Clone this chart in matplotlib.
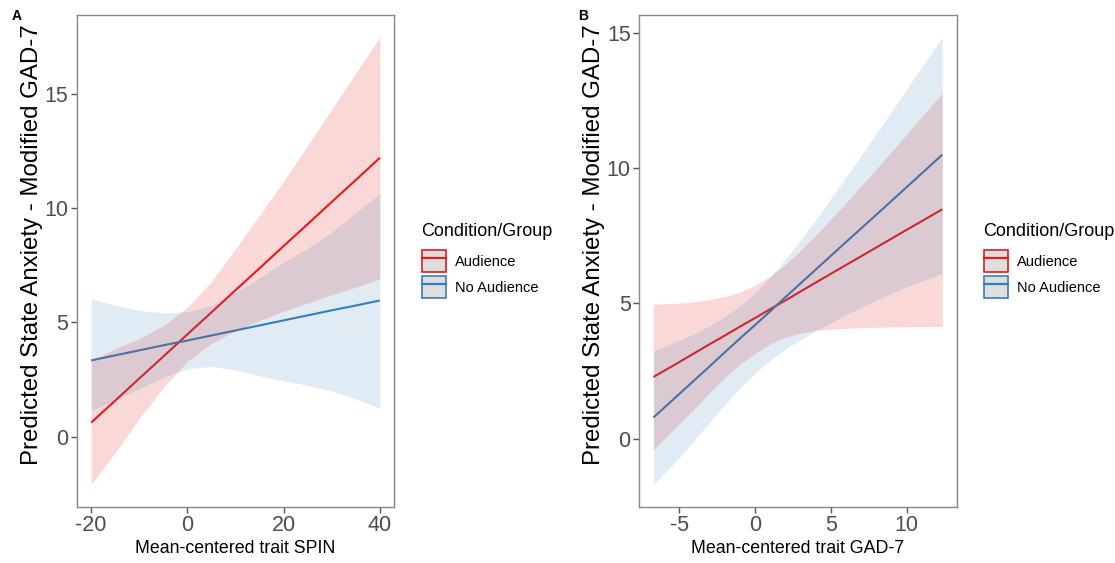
import matplotlib
matplotlib.use("Agg")
import matplotlib.pyplot as plt
from matplotlib.patches import Patch
from matplotlib.lines import Line2D

plt.rcParams['font.family'] = ['Liberation Sans', 'DejaVu Sans']
plt.rcParams['axes.unicode_minus'] = False

# ---- Panel A data (Mean-centered trait SPIN) ----
spin_x = [-20, -15, -10, -5, 0, 5, 10, 15, 20, 25, 30, 35, 40]
spin_aud_fit = [0.62, 1.58, 2.55, 3.51, 4.48, 5.44, 6.41, 7.37, 8.34, 9.30, 10.27, 11.23, 12.20]
spin_aud_hi = [3.32, 3.85, 4.30, 4.86, 5.66, 6.79, 8.22, 9.68, 11.19, 12.75, 14.33, 15.92, 17.48]
spin_aud_lo = [-2.08, -0.69, 0.80, 2.16, 3.30, 4.09, 4.64, 5.08, 5.49, 5.85, 6.21, 6.54, 6.90]
spin_noaud_fit = [3.34, 3.56, 3.78, 4.00, 4.21, 4.43, 4.65, 4.87, 5.09, 5.31, 5.53, 5.74, 5.96]
spin_noaud_hi = [6.03, 5.75, 5.53, 5.42, 5.47, 5.74, 6.30, 6.95, 7.63, 8.25, 8.95, 9.80, 10.64]
spin_noaud_lo = [1.15, 1.60, 2.10, 2.60, 2.98, 3.08, 2.92, 2.66, 2.45, 2.25, 2.00, 1.65, 1.26]

# ---- Panel B data (Mean-centered trait GAD-7) ----
gad_x = [-6.7, -5, -4, -3, -2, -1, 0, 1, 2, 3, 4, 6, 8, 10, 12.35]
gad_aud_fit = [2.28, 2.83, 3.16, 3.49, 3.81, 4.14, 4.46, 4.79, 5.11, 5.44, 5.77, 6.42, 7.07, 7.72, 8.48]
gad_aud_hi = [4.97, 5.01, 5.06, 5.14, 5.25, 5.42, 5.67, 6.01, 6.44, 6.96, 7.52, 8.72, 9.97, 11.26, 12.78]
gad_aud_lo = [-0.41, 0.55, 1.10, 1.70, 2.25, 2.75, 3.15, 3.50, 3.75, 3.90, 4.00, 4.08, 4.12, 4.14, 4.15]
gad_noaud_fit = [0.78, 1.65, 2.16, 2.67, 3.19, 3.70, 4.20, 4.71, 5.23, 5.74, 6.25, 7.27, 8.28, 9.30, 10.50]
gad_noaud_hi = [3.24, 3.63, 3.89, 4.17, 4.51, 4.91, 5.39, 5.96, 6.63, 7.34, 8.10, 9.67, 11.28, 12.92, 14.85]
gad_noaud_lo = [-1.69, -0.70, -0.05, 0.60, 1.25, 1.87, 2.42, 2.90, 3.30, 3.66, 3.98, 4.58, 5.12, 5.62, 6.10]

groups = ["Audience", "No Audience"]
line_colors = ["#E41A1C", "#377EB8"]
legend_title = "Condition/Group"
ylabel = "Predicted State Anxiety - Modified GAD-7"

W, H = 1115, 563
fig = plt.figure(figsize=(W / 100, H / 100), dpi=100)

def px_axes(l, t, r, b):
    return fig.add_axes([l / W, 1 - b / H, (r - l) / W, (b - t) / H])

axA = px_axes(76.7, 14.7, 394.3, 506.7)
axB = px_axes(639, 14.7, 956.7, 506.7)

def draw(ax, x, fits, his, los, xlabel, xticks, yticks):
    for fit, c in zip(fits, line_colors):
        ax.plot(x, fit, color=c, lw=1.5, zorder=2, solid_capstyle='butt')
    for hi, lo, c, a in zip(his, los, line_colors, [0.17, 0.15]):
        ax.fill_between(x, lo, hi, color=c, alpha=a, lw=0, zorder=3)
    ax.set_xticks(xticks)
    ax.set_yticks(yticks)
    ax.tick_params(axis='both', which='both', direction='out', length=4, width=1,
                   color='#555555', labelcolor='#4d4d4d', labelsize=15.5, pad=2)
    for s in ax.spines.values():
        s.set_color('#888888')
        s.set_linewidth(1.0)
    ax.set_xlabel(xlabel, fontsize=12.8, color='black', labelpad=3)
    ax.set_ylabel(ylabel, fontsize=17.3, color='black', labelpad=1)
    ax.yaxis.label.set_y(0.533)
    xmin, xmax = min(x), max(x)
    dx = (xmax - xmin) * 0.05
    ax.set_xlim(xmin - dx, xmax + dx)
    ymin = min(min(l) for l in los)
    ymax = max(max(h) for h in his)
    dy = (ymax - ymin) * 0.05
    ax.set_ylim(ymin - dy, ymax + dy)

draw(axA, spin_x, [spin_aud_fit, spin_noaud_fit], [spin_aud_hi, spin_noaud_hi],
     [spin_aud_lo, spin_noaud_lo], "Mean-centered trait SPIN", [-20, 0, 20, 40], [0, 5, 10, 15])
draw(axB, gad_x, [gad_aud_fit, gad_noaud_fit], [gad_aud_hi, gad_noaud_hi],
     [gad_aud_lo, gad_noaud_lo], "Mean-centered trait GAD-7", [-5, 0, 5, 10], [0, 5, 10, 15])

def make_legend(xpx):
    handles = []
    for c in line_colors:
        p = Patch(facecolor='#dedede', edgecolor=c, linewidth=1.2)
        l = Line2D([], [], color=c, lw=1.6)
        handles.append((p, l))
    fig.text(xpx / W, 1 - 232 / H, legend_title, fontsize=13, ha='left', va='center')
    fig.legend(handles, groups, loc='upper left',
               bbox_to_anchor=((xpx + 1) / W, 1 - 250 / H), frameon=False,
               fontsize=10.5, handlelength=1.65, handleheight=1.94,
               labelspacing=0.28, handletextpad=0.6, borderaxespad=0, borderpad=0)

make_legend(421)
make_legend(983)

fig.text(12 / W, 1 - 16 / H, 'A', fontsize=10, fontweight='bold', va='center', ha='left')
fig.text(578 / W, 1 - 16 / H, 'B', fontsize=10, fontweight='bold', va='center', ha='left')

fig.savefig('out.png', dpi=100)
